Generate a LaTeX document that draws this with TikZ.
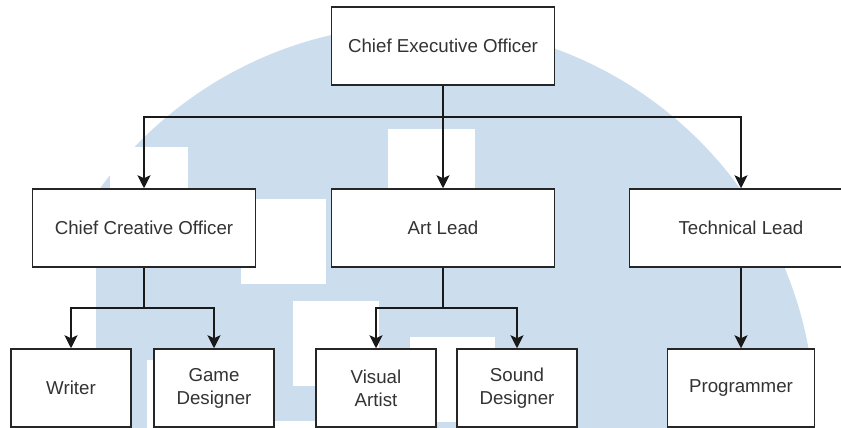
\documentclass[tikz,border=0pt]{standalone}
\usepackage{fontspec}
\setmainfont{Liberation Sans}
\usetikzlibrary{arrows.meta}
\definecolor{logoblue}{HTML}{CCDDED}
\definecolor{inkgray}{HTML}{333333}
\begin{document}
\begin{tikzpicture}[x=1pt,y=-1pt,
  box/.style={draw=black!85, line width=1.5pt, fill=white, minimum height=78pt,
    text=inkgray, font=\fontsize{18.7}{23}\selectfont, align=center, inner sep=0pt},
  widebox/.style={box, minimum width=223pt},
  smallbox/.style={box, minimum width=120pt},
  link/.style={draw=black!90, line width=1.8pt},
  arr/.style={link, -{Stealth[length=13pt,width=13pt,inset=3pt]}}]
  \useasboundingbox (0,0) rectangle (841,428);
  \clip (0,0) rectangle (841,428);

  % background emblem: a pale disc with white blocks cut into it
  \begin{scope}
    \clip (96,0) rectangle (841,440);
    \fill[logoblue] (420,420) circle[radius=395pt];
  \end{scope}
  \fill[white] (110,147) rectangle (188,200);
  \fill[white] (241,199) rectangle (326,284);
  \fill[white] (293,301) rectangle (379,386);
  \fill[white] (388,129) rectangle (475,200);
  \fill[white] (410,337) rectangle (495,422);
  \fill[white] (147,360) rectangle (200,440);
  \fill[white] (262,421) rectangle (330,440);

  % organisation chart
  \node[widebox] (ceo)  at (443,46)  {Chief Executive Officer};
  \node[widebox] (cco)  at (144,228) {Chief Creative Officer};
  \node[widebox] (art)  at (443,228) {Art Lead};
  \node[widebox] (tech) at (741,228) {Technical Lead};

  \node[smallbox] (writer) at (71,388)  {Writer};
  \node[smallbox] (game)   at (214,388) {Game\\Designer};
  \node[smallbox] (visual) at (376,388) {Visual\\Artist};
  \node[smallbox] (sound)  at (517,388) {Sound\\Designer};
  \node[box, minimum width=147pt] (prog) at (741,388) {Programmer};

  \coordinate (bus)  at (443,117);
  \coordinate (bus1) at (144,308);
  \coordinate (bus2) at (443,308);

  \draw[arr] (ceo.south) -- (art.north);
  \draw[arr] (bus) -| (cco.north);
  \draw[arr] (bus) -| (tech.north);

  \draw[link] (cco.south) -- (bus1);
  \draw[arr] (bus1) -| (writer.north);
  \draw[arr] (bus1) -| (game.north);

  \draw[link] (art.south) -- (bus2);
  \draw[arr] (bus2) -| (visual.north);
  \draw[arr] (bus2) -| (sound.north);

  \draw[arr] (tech.south) -- (prog.north);
\end{tikzpicture}
\end{document}
